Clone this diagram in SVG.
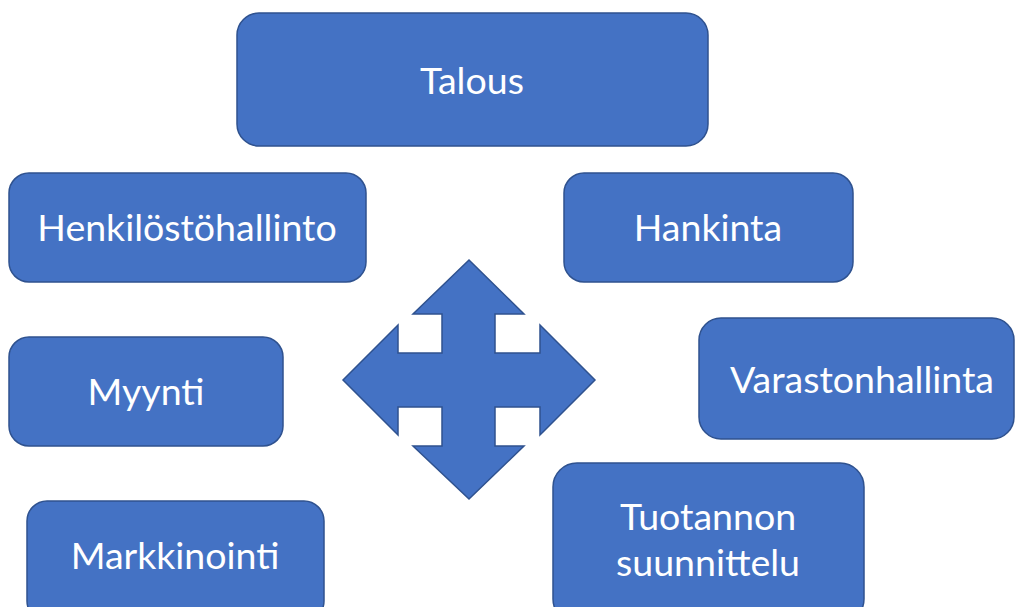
<svg xmlns="http://www.w3.org/2000/svg" width="1015" height="607" viewBox="0 0 1015 607">
<style>
.box{fill:#4472C4;stroke:#2F528F;stroke-width:1.5}
.t{fill:#FFFFFF;font-family:Lato,"Open Sans","Liberation Sans",sans-serif;font-size:37.5px;text-anchor:middle}
</style>
<rect width="1015" height="607" fill="#FFFFFF"/>
<g id="talous"><rect class="box" x="237" y="13" width="471" height="133" rx="22"/><text class="t" x="472" y="94">Talous</text></g>
<g id="henkilostohallinto"><rect class="box" x="9" y="173" width="357" height="109" rx="20"/><text class="t" x="187" y="241">Henkilöstöhallinto</text></g>
<g id="hankinta"><rect class="box" x="564" y="173" width="289" height="109" rx="20"/><text class="t" x="708" y="241">Hankinta</text></g>
<g id="myynti"><rect class="box" x="9" y="337" width="274" height="109" rx="20"/><text class="t" x="146" y="405">Myynti</text></g>
<g id="varastonhallinta"><rect class="box" x="699" y="318" width="315" height="121" rx="22"/><text class="t" x="862" y="393">Varastonhallinta</text></g>
<g id="tuotannon"><rect class="box" x="553" y="463" width="311" height="160" rx="24"/><text class="t" x="708" y="530">Tuotannon</text><text class="t" x="708" y="576">suunnittelu</text></g>
<g id="markkinointi"><rect class="box" x="27" y="501" width="297" height="120" rx="20"/><text class="t" x="175" y="569">Markkinointi</text></g>
<g id="connectors"></g>
<g id="arrow"><path class="box" d="M469,260 L524,314 L495,314 L495,353 L540,353 L540,325 L595,380 L540,435 L540,407 L495,407 L495,446 L524,446 L469,499 L413,446 L442,446 L442,407 L398,407 L398,435 L343,380 L398,325 L398,353 L442,353 L442,314 L413,314 Z"/></g>
</svg>
